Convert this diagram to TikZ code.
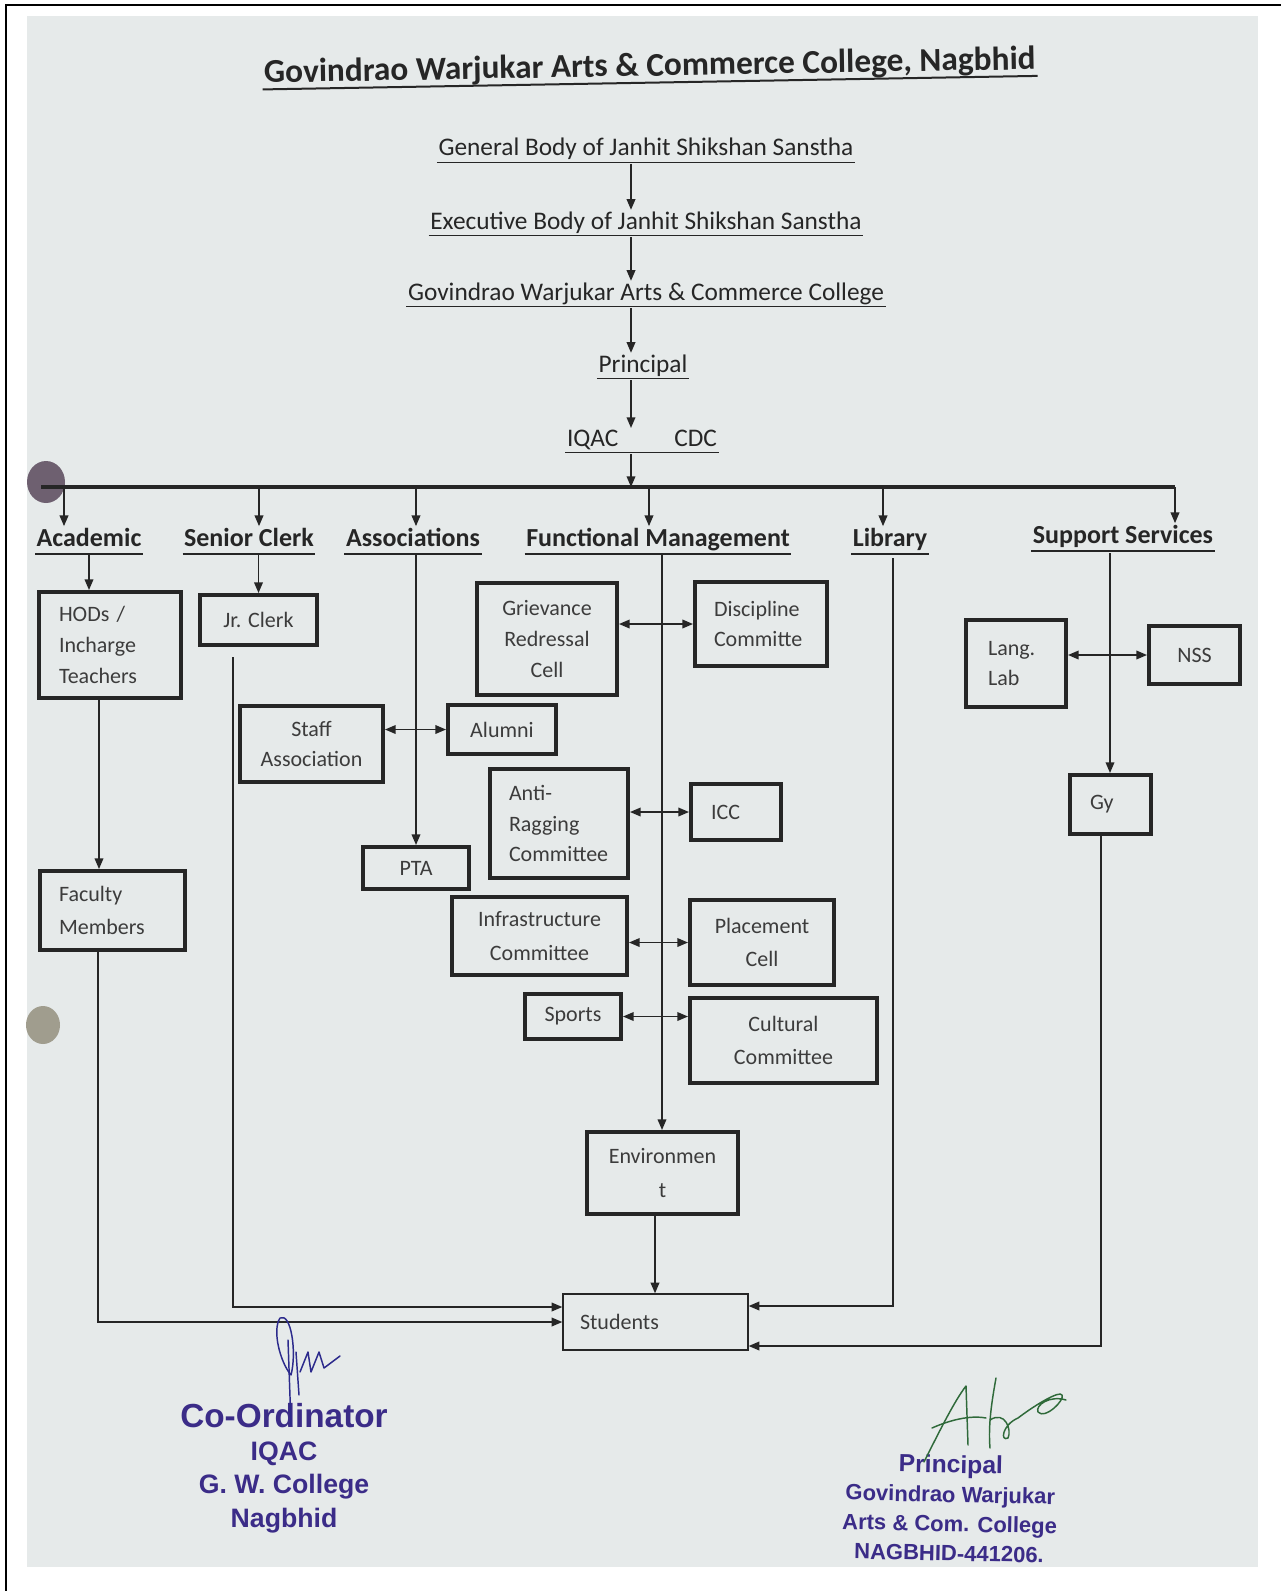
\documentclass[tikz,border=0pt]{standalone}
\usepackage{fontspec}
\setmainfont{Carlito}
\newfontfamily\stampfont{Liberation Sans}
\usetikzlibrary{arrows.meta}
\definecolor{pagebg}{HTML}{E6EAEA}
\definecolor{ink}{HTML}{262626}
\definecolor{stampc}{HTML}{3B2C88}
\definecolor{sigblue}{HTML}{2C2A8C}
\definecolor{siggreen}{HTML}{2F6A3A}
\newcommand\pbox[7][]{%
  \node[boxst, minimum width={(#5-#3)*0.75pt}, minimum height={(#6-#4)*0.75pt}, #1]
    (#2) at ({(#3+#5)/2},{(#4+#6)/2}) {#7};}
\newcommand\ulin[3][1.2pt]{\draw[draw=ink, line width=#1] ([yshift=-#3]#2.base west) -- ([yshift=-#3]#2.base east);}
\begin{document}
\begin{tikzpicture}[x=0.75pt,y=-0.75pt,
  boxst/.style={draw=ink, line width=3pt, text=ink!90, inner sep=0pt, align=center,
    font=\fontsize{16.5}{23}\selectfont},
  wide/.style={font=\fontsize{16.5}{25}\selectfont},
  thinbox/.style={line width=1pt},
  conn/.style={draw=ink, line width=1.1pt},
  arr/.style={conn, -{Triangle[length=8pt,width=6.5pt]}},
  dbl/.style={conn, {Triangle[length=8pt,width=6.5pt]}-{Triangle[length=8pt,width=6.5pt]}},
  chain/.style={text=ink, inner sep=1pt, anchor=base, font=\fontsize{19}{23}\selectfont},
  hd/.style={text=ink, inner sep=1pt, anchor=base, font=\bfseries\fontsize{19.5}{23}\selectfont},
  stamp/.style={text=stampc, inner sep=0pt, font=\stampfont\bfseries\fontsize{19}{23}\selectfont},
]
\useasboundingbox (0,0) rectangle (1281,1591);
\fill[white] (0,0) rectangle (1281,1591);
\fill[pagebg] (27,16) rectangle (1258,1567);
\draw[line width=1.5pt] (6,1591) -- (6,5) -- (1281,5);
% hole punches
\fill[color={rgb,255:red,110;green,96;blue,112}] (46,482) ellipse (19 and 21);
\fill[color={rgb,255:red,160;green,157;blue,142}] (43,1025) ellipse (17 and 19);

% title and chain
\node[chain, font=\bfseries\fontsize{25}{30}\selectfont, rotate=1] (title) at (650,76) {Govindrao Warjukar Arts \& Commerce College, Nagbhid};
\draw[draw=ink, line width=1.5pt, rotate around={1:(title.base)}] ([yshift=-5pt]title.base west) -- ([yshift=-5pt]title.base east);
\node[chain] (gb) at (646,156) {General Body of Janhit Shikshan Sanstha};
\node[chain] (eb) at (646,229) {Executive Body of Janhit Shikshan Sanstha};
\node[chain] (gw) at (646,300) {Govindrao Warjukar Arts \& Commerce College};
\node[chain] (pr) at (643,372) {Principal};
\node[chain] (iq) at (642,446) {IQAC\hspace{42pt}CDC};
\ulin{gb}{5pt}\ulin{eb}{5pt}\ulin{gw}{5pt}\ulin{pr}{5pt}\ulin{iq}{5pt}
\coordinate (cx) at (631,0);
\draw[arr] (gb.base -| cx) ++(0,8) -- (eb.north -| cx);
\draw[arr] (eb.base -| cx) ++(0,8) -- (gw.north -| cx);
\draw[arr] (gw.base -| cx) ++(0,8) -- (pr.north -| cx);
\draw[arr] (pr.base -| cx) ++(0,8) -- (iq.north -| cx);

% bus
\coordinate (bL) at (41,487);
\coordinate (bR) at (1175,487);
\coordinate (bC) at (631,487);
\draw[arr] (iq.base -| cx) ++(0,8) -- (bC);
\draw[draw=ink, line width=3.5pt] (bL) -- (bR);
\coordinate (d1) at (64,487);
\coordinate (d2) at (259,487);
\coordinate (d3) at (416,487);
\coordinate (d4) at (649,487);
\coordinate (d5) at (883,487);
\coordinate (d6) at (1175,487);

% heads
\node[hd] (acad) at (89,546) {Academic};
\node[hd] (sc) at (249,546) {Senior Clerk};
\node[hd] (asc) at (413,546) {Associations};
\node[hd] (fm) at (658,546) {Functional Management};
\node[hd] (lib) at (890,546) {Library};
\node[hd] (ss) at (1123,543) {Support Services};
\foreach \n in {acad,sc,asc,fm,lib,ss}{\ulin[1.6pt]{\n}{6pt}}
\draw[arr] (d1) -- (d1 |- acad.north);
\draw[arr] (d2) -- (d2 |- sc.north);
\draw[arr] (d3) -- (d3 |- asc.north);
\draw[arr] (d4) -- (d4 |- fm.north);
\draw[arr] (d5) -- (d5 |- lib.north);
\draw[arr] (d6) -- (d6 |- ss.north);

% boxes
\pbox[align=left, text width=76.5pt, inner xsep=15pt]{hod}{39}{592}{181}{698}{HODs /\\Incharge\\Teachers}
\pbox[wide, align=left, text width=80.25pt, inner xsep=14.25pt]{fac}{40}{871}{185}{950}{Faculty\\Members}
\pbox{jr}{200}{595}{317}{645}{Jr. Clerk}
\pbox{pta}{363}{847}{469}{889}{PTA}
\pbox{staff}{240}{706}{383}{782}{Staff\\Association}
\pbox{alum}{448}{705}{556}{754}{Alumni}
\pbox{griev}{477}{583}{617}{695}{Grievance\\Redressal\\Cell}
\pbox[align=left, text width=70.5pt, inner xsep=14.25pt]{disc}{695}{582}{827}{666}{Discipline\\Committe}
\pbox[align=left, text width=75pt, inner xsep=14.25pt]{anti}{490}{769}{628}{878}{Anti-\\Ragging\\Committee}
\pbox[align=left, text width=37.5pt, inner xsep=15pt]{icc}{691}{784}{781}{840}{ICC}
\pbox[wide]{infra}{452}{897}{627}{975}{Infrastructure\\Committee}
\pbox[wide]{place}{690}{900}{834}{985}{Placement\\Cell}
\pbox{sports}{525}{994}{621}{1039}{Sports}
\pbox[wide]{cult}{690}{998}{877}{1083}{Cultural\\Committee}
\pbox[wide]{env}{587}{1132}{738}{1214}{Environmen\\t}
\pbox[thinbox, align=left, text width=113.25pt, inner xsep=12.75pt]{stud}{563}{1294}{748}{1350}{Students}
\pbox[align=left, text width=42pt, inner xsep=16.5pt]{lang}{966}{620}{1066}{707}{Lang.\\Lab}
\pbox{nss}{1149}{626}{1240}{684}{NSS}
\pbox[align=left, text width=30.75pt, inner xsep=15pt]{gy}{1070}{775}{1151}{834}{Gy}

% academic column
\draw[arr] (acad.base) ++(0,9) -- (hod.north -| acad.base);
\coordinate (hx) at (99,0);
\draw[arr] (hod.south -| hx) -- (fac.north -| hx);
\coordinate (fy) at (98,1322);
\draw[arr] (fac.south -| fy) -- (fy) -- (stud.west |- fy);
% senior clerk column
\draw[arr] (sc.base -| jr.north) ++(0,9) -- (jr.north);
\coordinate (jy) at (233,1307);
\draw[arr] ([yshift=-7.5pt]jr.south -| jy) -- (jy) -- (stud.west |- jy);
% associations
\draw[arr] (asc.base -| pta.north) ++(0,9) -- (pta.north);
\draw[dbl] (staff.east |- alum.west) -- (alum.west);
% functional management
\coordinate (fmx) at (662,0);
\draw[arr] (fm.base -| fmx) ++(0,9) -- (env.north -| fmx);
\draw[dbl] (griev.east |- disc.west) -- (disc.west);
\draw[dbl] (anti.east |- icc.west) -- (icc.west);
\draw[dbl] (infra.east |- place.west) -- (place.west);
\draw[dbl] (sports.east) -- (cult.west |- sports.east);
\coordinate (ex) at (655,0);
\draw[arr] (env.south -| ex) -- (stud.north -| ex);
% library
\coordinate (ly) at (893,1306);
\draw[arr] (lib.base -| ly) ++(0,12) -- (ly) -- (stud.east |- ly);
% support services
\coordinate (sx) at (1110,0);
\draw[arr] (ss.base -| sx) ++(0,10) -- (gy.north -| sx);
\draw[dbl] (lang.east |- nss.west) -- (nss.west);
\coordinate (gq) at (1101,1346);
\draw[arr] (gy.south -| gq) -- (gq) -- (stud.east |- gq);

% stamps
\node[stamp, align=center, font=\stampfont\bfseries\fontsize{20}{25}\selectfont] (co) at (284,1468)
  {{\fontsize{25}{30}\selectfont Co-Ordinator}\\IQAC\\G. W. College\\Nagbhid};
\node[stamp, align=center, rotate=-1.2, font=\stampfont\bfseries\fontsize{16.5}{22}\selectfont] (pst) at (950,1508)
  {{\fontsize{18.5}{22}\selectfont Principal}\\Govindrao Warjukar\\Arts \& Com. College\\NAGBHID-441206.};

% signatures
\begin{scope}[sigblue, line width=1.1pt, line cap=round, line join=round]
\draw (280,1318) .. controls (272,1330) and (280,1362) .. (291,1375) .. controls (297,1352) and (291,1312) .. (280,1318);
\draw (288,1340) -- (291,1425);
\draw (296,1352) -- (299,1395);
\draw (300,1372) -- (308,1352) -- (311,1372) -- (319,1352) -- (324,1368) -- (340,1356);
\end{scope}
\begin{scope}[siggreen, line width=1.1pt, line cap=round, line join=round]
\draw (924,1462) .. controls (940,1430) and (955,1400) .. (966,1386) -- (968,1445);
\draw (932,1428) .. controls (950,1420) and (970,1415) .. (986,1418);
\draw (996,1378) .. controls (992,1400) and (988,1425) .. (990,1448);
\draw (990,1420) .. controls (1005,1410) and (1012,1430) .. (1008,1438) .. controls (1000,1442) and (1002,1425) .. (1018,1418)
  .. controls (1035,1405) and (1060,1390) .. (1062,1395) .. controls (1065,1400) and (1045,1420) .. (1038,1412) .. controls (1035,1405) and (1050,1395) .. (1066,1400);
\end{scope}
\end{tikzpicture}
\end{document}
